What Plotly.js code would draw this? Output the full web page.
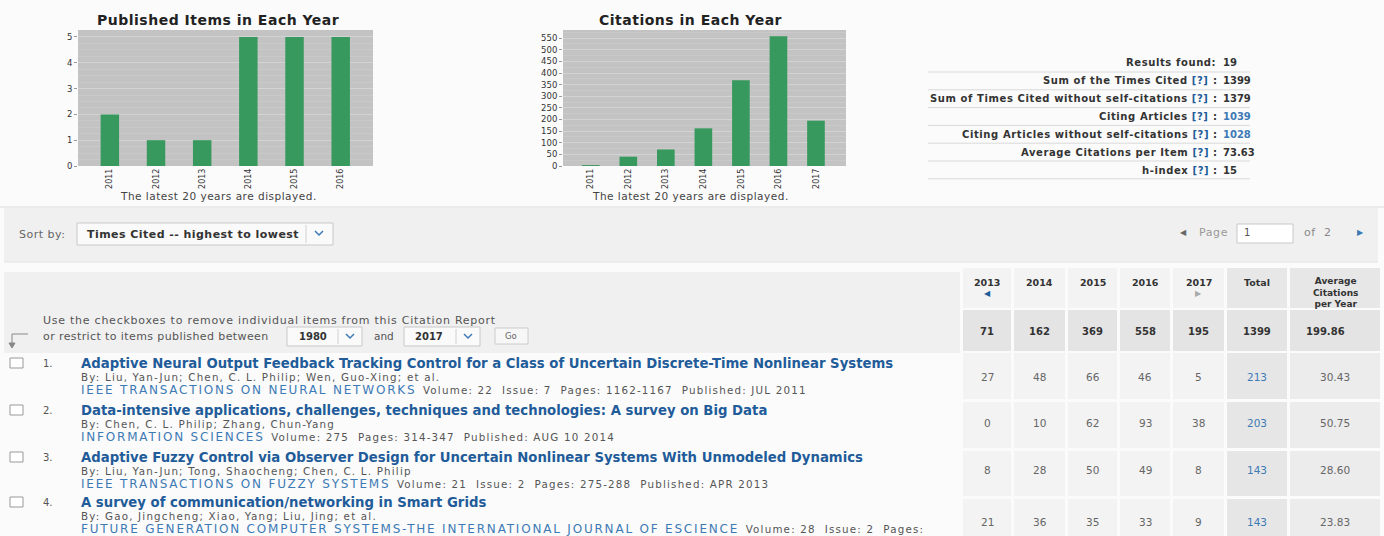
<!DOCTYPE html>
<html><head><meta charset="utf-8">
<script src="https://cdn.plot.ly/plotly-3.0.1.min.js"></script>
<style>html,body{margin:0;padding:0;background:#fbfbfb;overflow:hidden}#chart{width:1384px;height:536px}</style>
</head><body><div id="chart"></div>
<script>
// ---------- data ----------
const pubYears = ['2011','2012','2013','2014','2015','2016'];
const pubCounts = [2,1,1,5,5,5];
const citYears = ['2011','2012','2013','2014','2015','2016','2017'];
const citCounts = [4,40,71,162,369,558,195];

const statLabels = ['Results found:','Sum of the Times Cited','Sum of Times Cited without self-citations','Citing Articles','Citing Articles without self-citations','Average Citations per Item','h-index'];
const statHelp = [false,true,true,true,true,true,true];
const statValues = ['19','1399','1379','1039','1028','73.63','15'];
const statLinked = [false,false,false,true,true,false,false];

const tableYears = ['2013','2014','2015','2016','2017'];
const yearTotals = [71,162,369,558,195];
const grandTotal = 1399;
const grandAverage = '199.86';
const rowCites = [[27,48,66,46,5],[0,10,62,93,38],[8,28,50,49,8],[21,36,35,33,9]];
const rowTotals = [213,203,143,143];
const rowAverages = ['30.43','50.75','28.60','23.83'];

const paperTitles = [
 'Adaptive Neural Output Feedback Tracking Control for a Class of Uncertain Discrete-Time Nonlinear Systems',
 'Data-intensive applications, challenges, techniques and technologies: A survey on Big Data',
 'Adaptive Fuzzy Control via Observer Design for Uncertain Nonlinear Systems With Unmodeled Dynamics',
 'A survey of communication/networking in Smart Grids'];
const paperAuthors = [
 'By: Liu, Yan-Jun; Chen, C. L. Philip; Wen, Guo-Xing; et al.',
 'By: Chen, C. L. Philip; Zhang, Chun-Yang',
 'By: Liu, Yan-Jun; Tong, Shaocheng; Chen, C. L. Philip',
 'By: Gao, Jingcheng; Xiao, Yang; Liu, Jing; et al.'];
const paperJournals = [
 'IEEE TRANSACTIONS ON NEURAL NETWORKS',
 'INFORMATION SCIENCES',
 'IEEE TRANSACTIONS ON FUZZY SYSTEMS',
 'FUTURE GENERATION COMPUTER SYSTEMS-THE INTERNATIONAL JOURNAL OF ESCIENCE'];
const paperDetails = [
 'Volume: 22  Issue: 7  Pages: 1162-1167  Published: JUL 2011',
 'Volume: 275  Pages: 314-347  Published: AUG 10 2014',
 'Volume: 21  Issue: 2  Pages: 275-288  Published: APR 2013',
 'Volume: 28  Issue: 2  Pages:'];

// ---------- helpers ----------
const W = 1384, H = 536;
const X = v => v / W, Y = v => 1 - v / H;
const FONT = 'DejaVu Sans, Verdana, sans-serif';
const NB = s => s.replace(/ /g, '\u00a0');
const LS = (s, sp) => '<span style="letter-spacing:' + sp + 'px">' + s + '</span>';
const ann = [], shp = [];
function T(x, y, text, size, color, anchor, bold) {
  ann.push({xref:'paper', yref:'paper', x:X(x), y:Y(y), text: bold ? '<b>' + text + '</b>' : text,
    showarrow:false, xanchor:anchor || 'left', yanchor:'middle', borderpad:0,
    font:{family:FONT, size:size, color:color}});
}
function R(x0, y0, x1, y1, fill, line) {
  shp.push({type:'rect', xref:'paper', yref:'paper', x0:X(x0), x1:X(x1), y0:Y(y1), y1:Y(y0),
    fillcolor:fill, line: line ? {color:line, width:1} : {width:0}, layer:'below'});
}
function L(x0, y0, x1, y1, color, w) {
  shp.push({type:'line', xref:'paper', yref:'paper', x0:X(x0), x1:X(x1), y0:Y(y0), y1:Y(y1),
    line:{color:color, width:w || 1}, layer:'below'});
}
function P(pts, color, fill, w) {
  const d = pts.map((p, i) => (i ? 'L ' : 'M ') + X(p[0]) + ',' + Y(p[1])).join(' ') + (fill ? ' Z' : '');
  shp.push({type:'path', xref:'paper', yref:'paper', path:d, fillcolor: fill || 'rgba(0,0,0,0)',
    line:{color:color, width:w || 1}, layer:'above'});
}
function chevron(x, y, color) { P([[x - 4, y - 2], [x, y + 2], [x + 4, y - 2]], color, null, 1.5); }

const GREEN = '#37995e';
const BLUE = '#1f5c99';
const LINK = '#3d7ab5';

// ---------- page bands ----------
L(0, 207, 1384, 207, '#dcdcdc');
R(4, 208, 1378, 262, '#f0f0f0');
L(4, 262, 1378, 262, '#e4e4e4');
R(4, 272, 960, 353, '#f0f0f0');

// ---------- chart titles/captions ----------
T(218, 20, LS('Published Items in Each Year', 0.5), 14, '#222', 'center', true);
T(690, 20, LS('Citations in Each Year', 0.5), 14, '#222', 'center', true);
T(218, 196, LS('The latest 20 years are displayed.', 0.5), 10.5, '#444', 'center');
T(690, 196, LS('The latest 20 years are displayed.', 0.5), 10.5, '#444', 'center');

// ---------- stats block ----------
statLabels.forEach((lab, i) => {
  const y = 63 + i * 17.9;
  if (statHelp[i]) {
    T(1210, y, LS(NB(lab) + '\u00a0<span style="color:' + BLUE + '">[?]</span>', 0.6), 10, '#333', 'right', true);
    T(1215, y, ':', 10, '#333', 'center', true);
  } else {
    T(1217, y, LS(NB(lab), 0.6), 10, '#333', 'right', true);
  }
  T(1222, y, statValues[i], 10, statLinked[i] ? LINK : '#333', 'left', true);
  L(928, 72 + i * 17.8, 1250, 72 + i * 17.8, '#d9d9d9');
});

// ---------- sort bar ----------
T(18, 234, LS('Sort by:', 0.5), 11, '#666', 'left');
R(77, 223, 333, 245, '#fafafa', '#c8c8c8');
T(86, 234, LS(NB('Times Cited -- highest to lowest'), 0.45), 11, '#333', 'left', true);
L(306, 225, 306, 243, '#d0d0d0');
chevron(319, 233, LINK);
T(1183, 233, '\u25C0', 8, '#666', 'center');
T(1198, 233, LS('Page', 0.6), 11, '#999', 'left');
R(1237, 224, 1293, 243, '#ffffff', '#c8c8c8');
T(1243, 233, '1', 10, '#555', 'left');
T(1303, 233, LS(NB('of  2'), 0.6), 11, '#888', 'left');
T(1360, 233, '\u25B6', 8, LINK, 'center');

// ---------- restrict controls ----------
T(42, 320, LS('Use the checkboxes to remove individual items from this Citation Report', 0.75), 11, '#555', 'left');
T(42, 336, LS('or restrict to items published between', 0.4), 11, '#555', 'left');
L(12, 334, 28, 334, '#888');
L(12, 334, 12, 344, '#888');
P([[9, 343], [15, 343], [12, 348]], '#888', '#888', 1);
R(287, 327, 362, 346, '#fafafa', '#c8c8c8');
T(298, 336.5, '1980', 10, '#333', 'left', true);
L(338, 329, 338, 344, '#d0d0d0');
chevron(350, 336, LINK);
T(373, 336, 'and', 10.5, '#555', 'left');
R(404, 327, 480, 346, '#fafafa', '#c8c8c8');
T(414, 336.5, '2017', 10, '#333', 'left', true);
L(456, 329, 456, 344, '#d0d0d0');
chevron(468, 336, LINK);
R(495, 328, 528, 344, '#f7f7f7', '#cccccc');
T(511, 336, 'Go', 8.5, '#666', 'center');

// ---------- record list ----------
const titleY = [363, 410, 457, 502];
paperTitles.forEach((t, i) => {
  const y = titleY[i];
  R(10, y - 5, 23, y + 5, '#ffffff', '#999999');
  T(42, y, (i + 1) + '.', 10, '#555', 'left');
  T(80, y, t, 13.25, BLUE, 'left', true);
  T(80, y + 14, LS(paperAuthors[i], 1.2), 10.3, '#555', 'left');
  T(80, y + 26.8,
    '<span style="font-size:12px;letter-spacing:1.8px">' + NB(paperJournals[i]) + '</span>' +
    '\u00a0\u00a0<span style="color:#555;letter-spacing:1.2px">' + NB(paperDetails[i]) + '</span>',
    10.3, LINK, 'left');
});

// ---------- citation table ----------
const colL = [963, 1014, 1068, 1120, 1173, 1227, 1290];
const colR = [1011, 1065, 1117, 1170, 1224, 1287, 1380];
const colC = colL.map((l, i) => (l + colR[i]) / 2);
const rowTop = [353, 402, 451, 499];
const rowBot = [399, 448, 496, 536];
const textY = [377, 423, 470, 522];
colL.forEach((l, c) => {
  R(l, 268, colR[c], 308, c < 5 ? '#f3f3f3' : '#e7e7e7');
  R(l, 310, colR[c], 351, '#e4e4e4');
  rowTop.forEach((t, r) => R(l, t, colR[c], rowBot[r], c < 5 ? '#f3f3f3' : (c === 5 ? '#e6e6e6' : '#ececec')));
});
tableYears.forEach((yr, c) => {
  T(colC[c], 282, yr, 9.5, '#333', 'center', true);
  T(colC[c], 331, String(yearTotals[c]), 10, '#333', 'center', true);
});
T(colC[0], 293, '\u25C0', 8, BLUE, 'center');
T(colC[4], 293, '\u25B6', 8, '#aaaaaa', 'center');
T(colC[5], 282, 'Total', 9.5, '#333', 'center', true);
T(colC[6], 292, 'Average<br>Citations<br>per Year', 9, '#333', 'center', true);
T(colC[5], 331, String(grandTotal), 10, '#333', 'center', true);
T(colC[6] - 10, 331, grandAverage, 10, '#333', 'center', true);
rowCites.forEach((vals, r) => {
  vals.forEach((v, c) => T(colC[c], textY[r], String(v), 10.5, '#666', 'center'));
  T(colC[5], textY[r], String(rowTotals[r]), 10.5, LINK, 'center');
  T(colC[6], textY[r], rowAverages[r], 10.5, '#666', 'center');
});

// ---------- charts ----------
const data = [
  {type:'bar', x:pubYears, y:pubCounts, xaxis:'x', yaxis:'y', width:0.4,
   marker:{color:GREEN}, hoverinfo:'skip'},
  {type:'bar', x:citYears, y:citCounts, xaxis:'x2', yaxis:'y2', width:0.47,
   marker:{color:GREEN}, hoverinfo:'skip'}
];
const xCommon = {type:'category', tickangle:-90, tickfont:{family:FONT, size:8, color:'#333'},
  showgrid:false, zeroline:false, showline:false, ticks:'', fixedrange:true};
const yCommon = {tickfont:{family:FONT, size:8.5, color:'#333'}, gridcolor:'#d3d3d3', gridwidth:1,
  zeroline:false, showline:false, ticks:'outside', ticklen:3, tickcolor:'#999', fixedrange:true};
const layout = {
  width:W, height:H, margin:{l:0, r:0, t:0, b:0},
  paper_bgcolor:'#fbfbfb', plot_bgcolor:'#c3c3c3', showlegend:false,
  xaxis:Object.assign({}, xCommon, {domain:[X(78), X(373)], range:[-0.69, 5.7], anchor:'y'}),
  yaxis:Object.assign({}, yCommon, {domain:[Y(166), Y(30)], range:[0, 5.27], dtick:1, anchor:'x',
    minor:{dtick:0.25, showgrid:true, gridcolor:'#c9c9c9', gridwidth:1}}),
  xaxis2:Object.assign({}, xCommon, {domain:[X(563), X(846)], range:[-0.74, 6.8], anchor:'y2'}),
  yaxis2:Object.assign({}, yCommon, {domain:[Y(166), Y(30)], range:[0, 585], dtick:50, anchor:'x2',
    minor:{dtick:25, showgrid:true, gridcolor:'#c9c9c9', gridwidth:1}}),
  annotations:ann, shapes:shp
};
Plotly.newPlot('chart', data, layout, {displayModeBar:false, staticPlot:true});
</script></body></html>
